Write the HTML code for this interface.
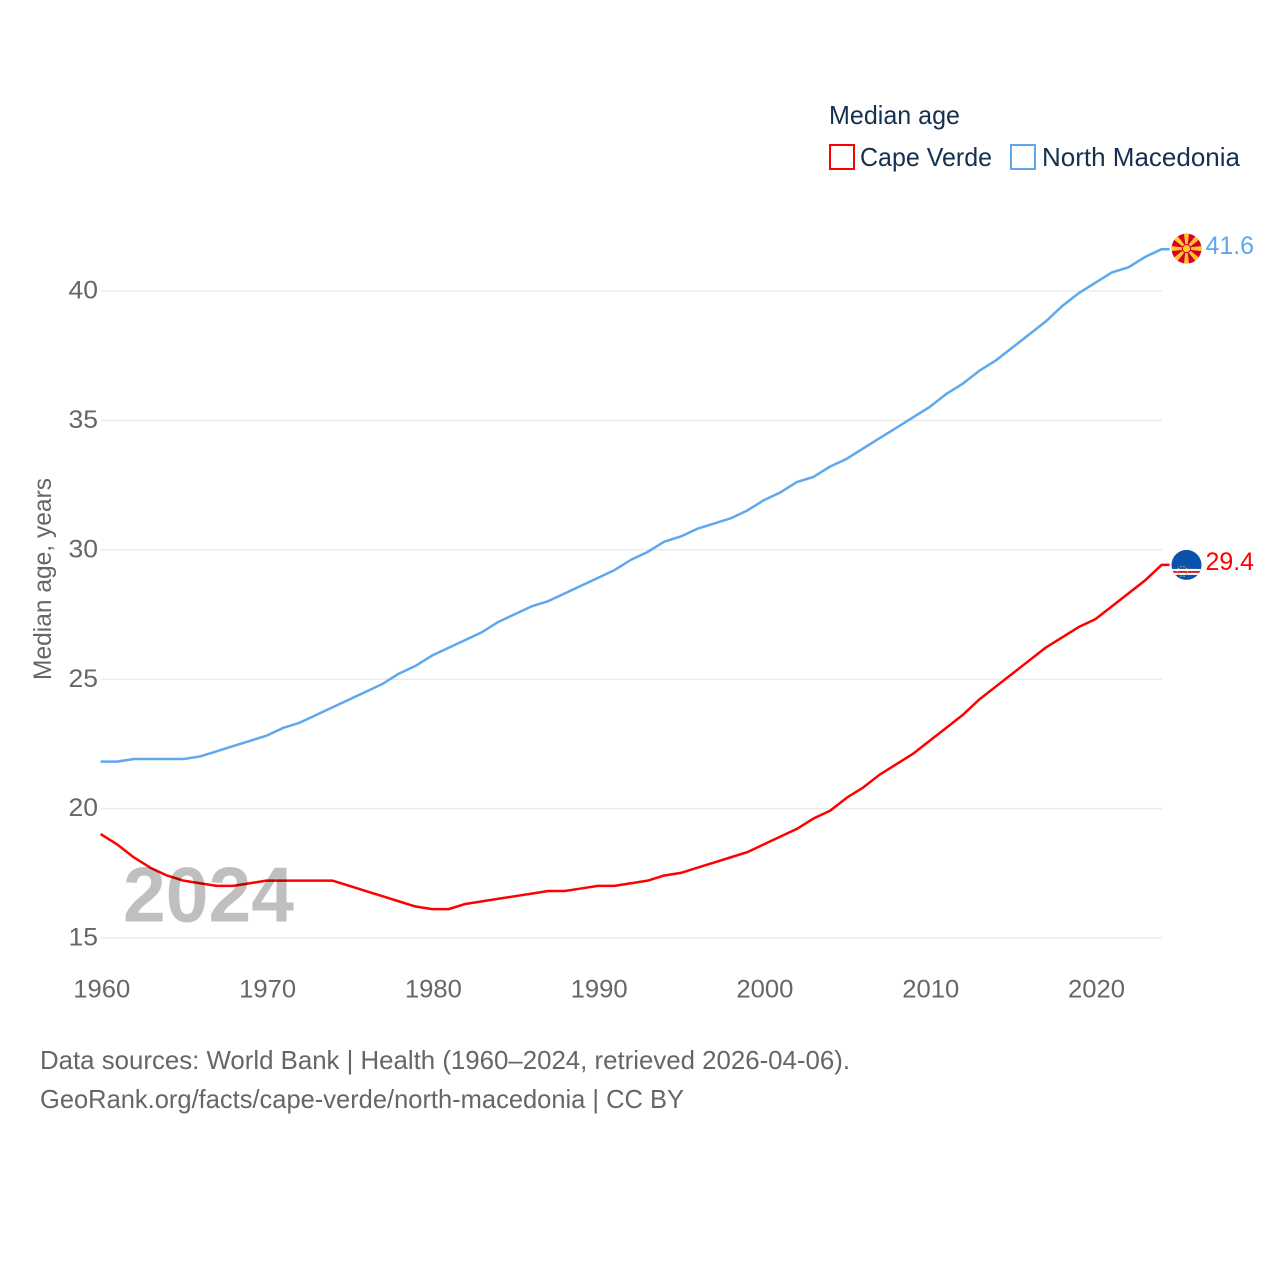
<!DOCTYPE html>
<html>
<head>
<meta charset="utf-8">
<title>Median age</title>
<style>
html,body{margin:0;padding:0;background:#fff;}
svg{display:block;font-family:"Liberation Sans",sans-serif;}
</style>
</head>
<body>
<svg id="chart" width="1280" height="1280" viewBox="0 0 1280 1280" xmlns="http://www.w3.org/2000/svg">
  <defs>
    <clipPath id="flag-clip-mk"><circle cx="0" cy="0" r="15"/></clipPath>
    <clipPath id="flag-clip-cv"><circle cx="0" cy="0" r="15"/></clipPath>
  </defs>
  <rect x="0" y="0" width="1280" height="1280" fill="#fff"/>
  <g id="grid"></g>
  <g id="yticks"></g>
  <g id="xticks"></g>
  <text x="0" y="0" transform="translate(51 680) rotate(-90)" font-size="25" fill="#666" textLength="202" lengthAdjust="spacingAndGlyphs">Median age, years</text>
  <g id="series"></g>
  <text x="123" y="921.5" font-size="78" font-weight="700" fill="rgba(0,0,0,0.25)" textLength="171" lengthAdjust="spacingAndGlyphs">2024</text>
  <g id="flags"></g>

  <text x="829" y="124" font-size="26" fill="#16304f" textLength="131" lengthAdjust="spacingAndGlyphs">Median age</text>
  <rect x="830" y="145" width="24" height="24" fill="none" stroke="#ff0000" stroke-width="2"/>
  <text x="860" y="166" font-size="26" fill="#16304f" textLength="132" lengthAdjust="spacingAndGlyphs">Cape Verde</text>
  <rect x="1011" y="145" width="24" height="24" fill="none" stroke="#5ea8ee" stroke-width="2"/>
  <text x="1042" y="166" font-size="26" fill="#16304f" textLength="198" lengthAdjust="spacingAndGlyphs">North Macedonia</text>

  <text x="40" y="1069" font-size="26" fill="#666" textLength="810" lengthAdjust="spacingAndGlyphs">Data sources: World Bank | Health (1960–2024, retrieved 2026-04-06).</text>
  <text x="40" y="1108" font-size="26" fill="#666" textLength="644" lengthAdjust="spacingAndGlyphs">GeoRank.org/facts/cape-verde/north-macedonia | CC BY</text>
</svg>
<script>
var years = [1960,1961,1962,1963,1964,1965,1966,1967,1968,1969,1970,1971,1972,1973,1974,1975,1976,1977,1978,1979,1980,1981,1982,1983,1984,1985,1986,1987,1988,1989,1990,1991,1992,1993,1994,1995,1996,1997,1998,1999,2000,2001,2002,2003,2004,2005,2006,2007,2008,2009,2010,2011,2012,2013,2014,2015,2016,2017,2018,2019,2020,2021,2022,2023,2024];
var capeVerde = [19.0,18.6,18.1,17.7,17.4,17.2,17.1,17.0,17.0,17.1,17.2,17.2,17.2,17.2,17.2,17.0,16.8,16.6,16.4,16.2,16.1,16.1,16.3,16.4,16.5,16.6,16.7,16.8,16.8,16.9,17.0,17.0,17.1,17.2,17.4,17.5,17.7,17.9,18.1,18.3,18.6,18.9,19.2,19.6,19.9,20.4,20.8,21.3,21.7,22.1,22.6,23.1,23.6,24.2,24.7,25.2,25.7,26.2,26.6,27.0,27.3,27.8,28.3,28.8,29.4];
var northMacedonia = [21.8,21.8,21.9,21.9,21.9,21.9,22.0,22.2,22.4,22.6,22.8,23.1,23.3,23.6,23.9,24.2,24.5,24.8,25.2,25.5,25.9,26.2,26.5,26.8,27.2,27.5,27.8,28.0,28.3,28.6,28.9,29.2,29.6,29.9,30.3,30.5,30.8,31.0,31.2,31.5,31.9,32.2,32.6,32.8,33.2,33.5,33.9,34.3,34.7,35.1,35.5,36.0,36.4,36.9,37.3,37.8,38.3,38.8,39.4,39.9,40.3,40.7,40.9,41.3,41.6];
var yTickValues = [15,20,25,30,35,40];
var xTickValues = [1960,1970,1980,1990,2000,2010,2020];

var NS = 'http://www.w3.org/2000/svg';
function xScale(year){ return 100.6 + (year - 1960) * (1162 - 101) / 64; }
function yScale(v){ return 937.6 - (v - 15) * (938 - 291) / 25; }
function make(tag, parent){
  var el = document.createElementNS(NS, tag);
  parent.appendChild(el);
  return el;
}
function set(el, k, v){ el.setAttribute(k, v); }

var gridG = document.getElementById('grid');
var yG = document.getElementById('yticks');
var xG = document.getElementById('xticks');
var seriesG = document.getElementById('series');
var flagsG = document.getElementById('flags');

yTickValues.forEach(function(v){
  var line = make('line', gridG);
  
  
  set(line,'x1',101); set(line,'x2',1162);
  set(line,'y1',yScale(v)+0.4); set(line,'y2',yScale(v)+0.4);
  set(line,'stroke','#ebebeb'); set(line,'stroke-width','1.5');
  var t = make('text', yG);
  
  
  set(t,'x',98); set(t,'y',yScale(v)+8);
  set(t,'text-anchor','end'); set(t,'font-size','25'); set(t,'fill','#666');
  set(t,'textLength','29.5'); set(t,'lengthAdjust','spacingAndGlyphs');
  t.textContent = String(v);
});

xTickValues.forEach(function(v){
  var t = make('text', xG);
  
  
  set(t,'x',xScale(v)+1.2); set(t,'y',997.5);
  set(t,'text-anchor','middle'); set(t,'font-size','25'); set(t,'fill','#666');
  set(t,'textLength','57'); set(t,'lengthAdjust','spacingAndGlyphs');
  t.textContent = String(v);
});

function drawLine(values, color, name){
  var d = '';
  for (var i = 0; i < values.length; i++) {
    d += (i ? 'L' : 'M') + xScale(years[i]).toFixed(2) + ' ' + yScale(values[i]).toFixed(2);
  }
  d += 'L' + (xScale(years[years.length-1]) + 8).toFixed(2) + ' ' + yScale(values[values.length-1]).toFixed(2);
  var p = make('path', seriesG);
  
  
  set(p,'d',d); set(p,'fill','none'); set(p,'stroke',color);
  set(p,'stroke-width','2.5'); set(p,'stroke-linejoin','round');
}
drawLine(capeVerde, '#ff0000', 'line-cape-verde');
drawLine(northMacedonia, '#5ea8ee', 'line-north-macedonia');

function endLabel(values, color, name){
  var v = values[values.length-1];
  var t = make('text', flagsG);
  
  
  set(t,'x',1205.5); set(t,'y',yScale(v)+5);
  set(t,'font-size','25'); set(t,'fill',color);
  set(t,'textLength','48.5'); set(t,'lengthAdjust','spacingAndGlyphs');
  t.textContent = v.toFixed(1);
}

/* North Macedonia flag */
var mk = make('g', flagsG);


set(mk,'transform','translate(1186.5 '+(yScale(northMacedonia[northMacedonia.length-1])-0.6).toFixed(2)+')');
var mkInner = make('g', mk);
set(mkInner,'clip-path','url(#flag-clip-mk)');
var mkBg = make('rect', mkInner);
set(mkBg,'x',-16); set(mkBg,'y',-16); set(mkBg,'width',32); set(mkBg,'height',32); set(mkBg,'fill','#d80027');
for (var a = 0; a < 8; a++) {
  var ray = make('polygon', mkInner);
  set(ray,'points','-0.8,0 0.8,0 2.7,-17 -2.7,-17');
  set(ray,'fill','#ffc72c');
  set(ray,'transform','rotate('+(a*45)+')');
}
var sun = make('circle', mkInner);
set(sun,'r',4.6); set(sun,'fill','#d80027');
var sunCore = make('circle', mkInner);
set(sunCore,'r',3.6); set(sunCore,'fill','#ffc72c');

/* Cape Verde flag */
var cv = make('g', flagsG);


set(cv,'transform','translate(1186.5 '+yScale(capeVerde[capeVerde.length-1]).toFixed(2)+')');
var cvInner = make('g', cv);
set(cvInner,'clip-path','url(#flag-clip-cv)');
var cvBg = make('rect', cvInner);
set(cvBg,'x',-16); set(cvBg,'y',-16); set(cvBg,'width',32); set(cvBg,'height',32); set(cvBg,'fill','#0a52ab');
var cvWhite = make('rect', cvInner);
set(cvWhite,'x',-16); set(cvWhite,'y',4); set(cvWhite,'width',32); set(cvWhite,'height',6); set(cvWhite,'fill','#fff');
var cvRed = make('rect', cvInner);
set(cvRed,'x',-16); set(cvRed,'y',6); set(cvRed,'width',32); set(cvRed,'height',2); set(cvRed,'fill','#d8232a');
for (var s = 0; s < 10; s++) {
  var star = make('circle', cvInner);
  var ang = s * Math.PI / 5;
  set(star,'cx',(-4 + 5 * Math.cos(ang)).toFixed(2));
  set(star,'cy',(6.5 + 5 * Math.sin(ang)).toFixed(2));
  set(star,'r',0.7); set(star,'fill','#c9c27a');
}

endLabel(northMacedonia, '#5ea8ee', 'end-label-north-macedonia');
endLabel(capeVerde, '#ff0000', 'end-label-cape-verde');
</script>
</body>
</html>
